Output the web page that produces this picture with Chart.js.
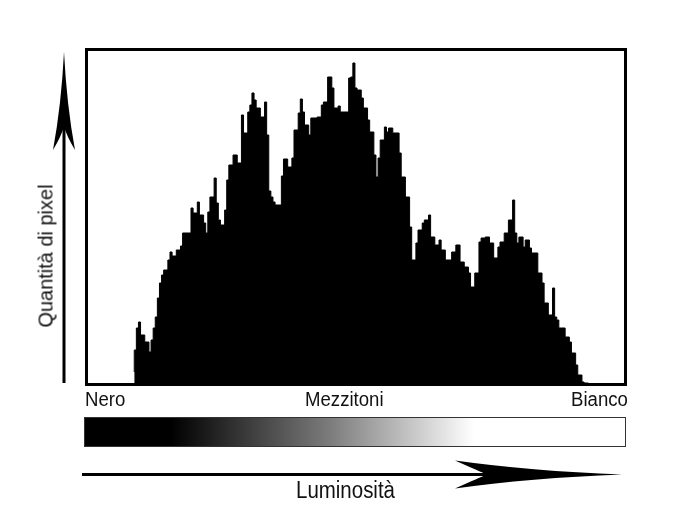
<!DOCTYPE html>
<html lang="it">
<head>
<meta charset="utf-8">
<title>Istogramma luminosità</title>
<script src="https://cdn.jsdelivr.net/npm/chart.js@4"></script>
<style>
  body { margin: 0; background: #fff; }
  #wrap { position: relative; width: 700px; height: 524px; }
  #istogramma { position: absolute; left: 0; top: 0; }
  .lbl {
    position: absolute;
    font-family: 'Liberation Sans', Arial, sans-serif;
    color: #111;
    white-space: nowrap;
    line-height: 1;
    transform-origin: 0 0;
  }
</style>
</head>
<body>
<div id="wrap">
  <canvas id="istogramma" width="700" height="524"></canvas>
  <div class="lbl" style="left:85px;top:389px;font-size:20px;transform:scaleX(0.93)">Nero</div>
  <div class="lbl" style="left:305px;top:389px;font-size:20px;transform:scaleX(0.93)">Mezzitoni</div>
  <div class="lbl" style="left:571px;top:389px;font-size:20px;transform:scaleX(0.93)">Bianco</div>
  <div class="lbl" style="left:296px;top:479px;font-size:23px;transform:scaleX(0.89)">Luminosità</div>
  <div class="lbl" style="left:45px;top:256px;font-size:21px;transform-origin:50% 50%;transform:translate(-50%,-50%) rotate(-90deg) scaleX(0.95)">Quantità di pixel</div>
</div>
<script>
// livelli di luminosità (0-255) dove cambia l'altezza dell'istogramma
const livelli = [22, 23, 24, 25, 27, 29, 30, 31, 32, 33, 34, 35, 36, 38, 39, 40, 42, 44, 45,
  49, 50, 52, 53, 55, 56, 57, 58, 60, 61, 62, 63, 65, 66, 67, 69, 71, 73, 74, 76,
  77, 78, 79, 80, 82, 84, 85, 86, 87, 88, 89, 92, 93, 95, 97, 98, 100, 101, 102, 103,
  105, 106, 109, 111, 112, 114, 116, 117, 119, 120, 124, 125, 126, 127, 128, 130, 131, 133, 134, 136,
  137, 138, 139, 141, 142, 143, 145, 148, 149, 151, 153, 154, 156, 157, 159, 160, 162, 163, 165, 167,
  168, 170, 173, 175, 177, 179, 181, 182, 184, 186, 187, 189, 191, 193, 195, 196, 198, 200, 202, 203,
  204, 205, 207, 208, 210, 211, 214, 216, 217, 219, 221, 222, 223, 224, 227, 229, 230, 232, 233, 235,
  236, 238];

// quantità di pixel per ogni tratto
const conteggi = [11, 33, 55, 61, 48, 41, 31, 43, 55, 66, 85, 100, 108, 113, 123, 131, 127, 133, 137,
  150, 175, 170, 181, 168, 160, 150, 171, 186, 205, 180, 163, 158, 173, 203, 218, 228, 220, 268, 250,
  271, 278, 290, 283, 275, 266, 281, 248, 192, 186, 181, 178, 207, 224, 216, 225, 253, 270, 284, 271,
  258, 248, 265, 266, 278, 281, 306, 295, 275, 277, 271, 305, 306, 320, 295, 293, 285, 275, 263, 251,
  228, 206, 225, 243, 256, 251, 255, 250, 230, 206, 186, 156, 123, 140, 153, 160, 163, 168, 146, 138,
  143, 133, 123, 131, 138, 121, 116, 110, 96, 110, 141, 145, 146, 140, 125, 136, 141, 150, 163, 183,
  150, 140, 146, 136, 143, 135, 130, 110, 100, 80, 68, 95, 66, 63, 55, 46, 41, 30, 18, 8,
  1, 0];

const maxConteggio = 332;

// freccia con punta ricurva
function freccia(ctx, x0, y0, x1, y1, lung, larg, tacca) {
  const ang = Math.atan2(y1 - y0, x1 - x0);
  ctx.save();
  ctx.translate(x1, y1);
  ctx.rotate(ang);
  const len = Math.hypot(x1 - x0, y1 - y0);
  ctx.fillStyle = '#000';
  ctx.fillRect(-len, -1.5, len - lung + tacca, 3);
  ctx.beginPath();
  ctx.moveTo(0, 0);
  ctx.quadraticCurveTo(-lung * 0.55, -larg * 0.25, -lung, -larg);
  ctx.quadraticCurveTo(-lung * 0.85, -larg * 0.2, -lung + tacca, 0);
  ctx.quadraticCurveTo(-lung * 0.85, larg * 0.2, -lung, larg);
  ctx.quadraticCurveTo(-lung * 0.55, larg * 0.25, 0, 0);
  ctx.fill();
  ctx.restore();
}

const decorazioni = {
  id: 'decorazioni',
  afterDraw(chart) {
    const { ctx, chartArea: a } = chart;
    ctx.save();
    // cornice
    ctx.strokeStyle = '#000';
    ctx.lineWidth = 3;
    ctx.strokeRect(a.left - 1.5, a.top - 1.5, a.right - a.left + 3, a.bottom - a.top + 3);
    // barra sfumata
    const g = ctx.createLinearGradient(84, 0, 626, 0);
    g.addColorStop(0, '#000');
    g.addColorStop(0.16, '#000');
    g.addColorStop(0.45, '#7a7a7a');
    g.addColorStop(0.72, '#fff');
    g.addColorStop(1, '#fff');
    ctx.fillStyle = g;
    ctx.fillRect(84, 417, 542, 30);
    ctx.strokeStyle = '#333';
    ctx.lineWidth = 1;
    ctx.strokeRect(84.5, 417.5, 541, 29);
    // frecce
    freccia(ctx, 64, 383, 64, 52, 98, 11, 24);
    freccia(ctx, 82, 474.5, 622, 474.5, 167, 14, 32);
    ctx.restore();
  }
};

document.addEventListener('DOMContentLoaded', () => {
  const ctx = document.getElementById('istogramma');
  new Chart(ctx, {
    type: 'line',
    data: {
      datasets: [{
        data: livelli.map((l, i) => ({ x: l, y: conteggi[i] })),
        stepped: 'after',
        fill: 'origin',
        backgroundColor: '#000',
        borderColor: '#000',
        borderWidth: 1,
        pointRadius: 0
      }]
    },
    options: {
      responsive: false,
      animation: false,
      layout: { padding: { left: 88, right: 76, top: 51, bottom: 141 } },
      plugins: { legend: { display: false }, tooltip: { enabled: false } },
      scales: {
        x: { type: 'linear', min: 0, max: 255, display: false },
        y: { min: 0, max: maxConteggio, display: false }
      }
    },
    plugins: [decorazioni]
  });
});
</script>
</body>
</html>
